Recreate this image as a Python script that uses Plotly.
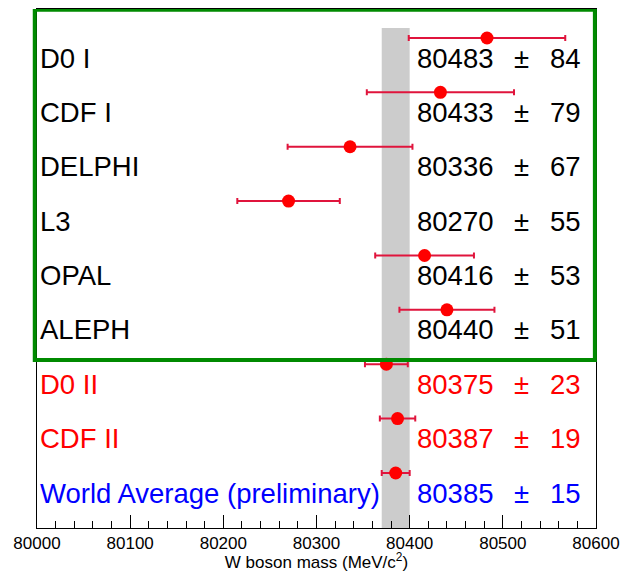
import plotly.graph_objects as go

labels = ["D0 I", "CDF I", "DELPHI", "L3", "OPAL", "ALEPH", "D0 II", "CDF II", "World Average (preliminary)"]
masses = [80483, 80433, 80336, 80270, 80416, 80440, 80375, 80387, 80385]
errors = [84, 79, 67, 55, 53, 51, 23, 19, 15]
text_colors = ["black"] * 6 + ["red", "red", "blue"]
band = [80370, 80400]
tick_vals = [80000, 80100, 80200, 80300, 80400, 80500, 80600]

rows = [-i for i in range(len(labels))]
FONT = "Liberation Sans, Arial, Helvetica, sans-serif"

fig = go.Figure()
fig.add_trace(go.Scatter(
    x=masses, y=rows, mode="markers",
    marker=dict(color="#ff0000", size=13),
    error_x=dict(type="data", array=errors, visible=True,
                 color="#e0143c", thickness=2, width=3),
    showlegend=False, hoverinfo="skip",
))

ann = []
dy = 0.37
for lab, m, e, c, r in zip(labels, masses, errors, text_colors, rows):
    yy = r - dy
    ann.append(dict(x=80001.5, y=yy, text=lab, xanchor="left", yanchor="middle",
                    showarrow=False, font=dict(size=27.5, color=c, family=FONT)))
    ann.append(dict(x=80406, y=yy, text=str(m), xanchor="left", yanchor="middle",
                    showarrow=False, font=dict(size=27.5, color=c, family=FONT)))
    ann.append(dict(x=80520.5, y=yy, text="±", xanchor="center", yanchor="middle",
                    showarrow=False, font=dict(size=27.5, color=c, family=FONT)))
    ann.append(dict(x=80586, y=yy, text=str(e), xanchor="right", yanchor="middle",
                    showarrow=False, font=dict(size=27.5, color=c, family=FONT)))

shapes = [
    dict(type="rect", xref="x", yref="y", x0=band[0], x1=band[1], y0=-9.02, y1=0.184,
         fillcolor="#cccccc", line=dict(width=0), layer="below"),
    dict(type="rect", xref="paper", yref="y", x0=-0.004, x1=0.998, y0=-5.922, y1=0.52,
         fillcolor="rgba(0,0,0,0)", line=dict(color="#008a00", width=4), layer="above"),
]

fig.update_layout(
    width=623, height=572,
    margin=dict(l=37, r=27, t=9, b=44, autoexpand=False),
    paper_bgcolor="white", plot_bgcolor="white",
    annotations=ann, shapes=shapes,
    font=dict(family=FONT, color="black"),
    xaxis=dict(
        range=[80000, 80600], tickvals=tick_vals, ticktext=[str(v) for v in tick_vals],
        ticks="inside", ticklen=13, tickwidth=1, tickcolor="black",
        minor=dict(dtick=20, ticks="inside", ticklen=7, tickcolor="black", tickwidth=1),
        showline=True, linecolor="black", linewidth=1, mirror=True,
        showgrid=False, zeroline=False,
        tickfont=dict(size=17, family=FONT, color="black"),
        title=dict(text="W boson mass (MeV/c<sup>2</sup>)", standoff=3,
                   font=dict(size=17, family=FONT, color="black")),
        automargin=False,
    ),
    yaxis=dict(
        range=[-9.0115, 0.5333], showticklabels=False, ticks="",
        showline=True, linecolor="black", linewidth=1, mirror=True,
        showgrid=False, zeroline=False, automargin=False,
    ),
)

fig.write_html("out.html", config={"displayModeBar": False},
               post_script="document.body.style.margin='0';document.body.style.overflow='hidden';")
